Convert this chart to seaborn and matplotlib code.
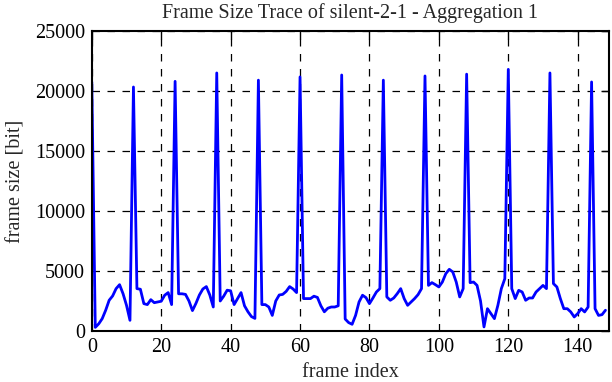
import numpy as np
import pandas as pd
import seaborn as sns
import matplotlib
matplotlib.use('Agg')
import matplotlib.pyplot as plt

# frame sizes in bit (I-frame every 12 frames)
sizes = [20750, 300, 600, 1030, 1730, 2560, 2920, 3530, 3860, 3110, 2140, 890,
         20330, 3530, 3480, 2280, 2200, 2610, 2360, 2420, 2480, 2980, 3200, 2200,
         20800, 3100, 3100, 3050, 2500, 1700, 2300, 3000, 3500, 3700, 3000, 2000,
         21500, 2500, 2900, 3400, 3350, 2200, 2700, 3200, 2100, 1600, 1200, 1050,
         20900, 2200, 2200, 2000, 1300, 2500, 3000, 3050, 3300, 3700, 3500, 3200,
         21170, 2700, 2700, 2700, 2900, 2800, 2100, 1600, 1900, 2000, 2000, 2100,
         21330, 1000, 700, 560, 1300, 2420, 2980, 2780, 2280, 2750, 3250, 3530,
         20900, 2840, 2560, 2750, 3110, 3530, 2700, 2140, 2420, 2700, 3030, 3530,
         21250, 3800, 4030, 3860, 3670, 4080, 4780, 5140, 4920, 4080, 2840, 3530,
         21400, 4030, 4080, 3800, 2500, 340, 1860, 1450, 1030, 2140, 3530, 4360,
         21800, 3530, 2700, 3390, 3250, 2560, 2750, 2750, 3250, 3530, 3800, 3530,
         21500, 3950, 3670, 2700, 1860, 1860, 1590, 1170, 1450, 1860, 1590, 2000,
         20750, 1860, 1300, 1360, 1730]
frames = np.arange(len(sizes))
df = pd.DataFrame({'frame index': frames, 'frame size [bit]': sizes})

xticks = [0, 20, 40, 60, 80, 100, 120, 140]
yticks = [0, 5000, 10000, 15000, 20000, 25000]

sns.set_style('white')
plt.rcParams['font.family'] = ['Liberation Serif', 'DejaVu Serif']

fig = plt.figure(figsize=(6.12, 3.82), dpi=100)
ax = fig.add_axes([0.150, 0.1335, 0.845, 0.7855])
sns.lineplot(data=df, x='frame index', y='frame size [bit]', color='#0000ff', lw=2, ax=ax)

ax.set_xlim(0, 149)
ax.set_ylim(0, 25000)
ax.set_xticks(xticks)
ax.set_yticks(yticks)
ax.tick_params(direction='in', length=6, width=1, top=True, right=True,
               labelsize=14.5, colors='black', pad=5)
for s in ax.spines.values():
    s.set_visible(True)
    s.set_color('black')
    s.set_linewidth(1.5)
ax.grid(True, linestyle=(0, (6, 6)), color='black', linewidth=0.9)
ax.set_axisbelow(True)
ax.set_title('Frame Size Trace of silent-2-1 - Aggregation 1', fontsize=14.5, pad=9)
ax.set_xlabel('frame index', fontsize=14.5, labelpad=4)
ax.set_ylabel('frame size [bit]', fontsize=14.5, labelpad=7)

fig.savefig('out.png', dpi=100)
